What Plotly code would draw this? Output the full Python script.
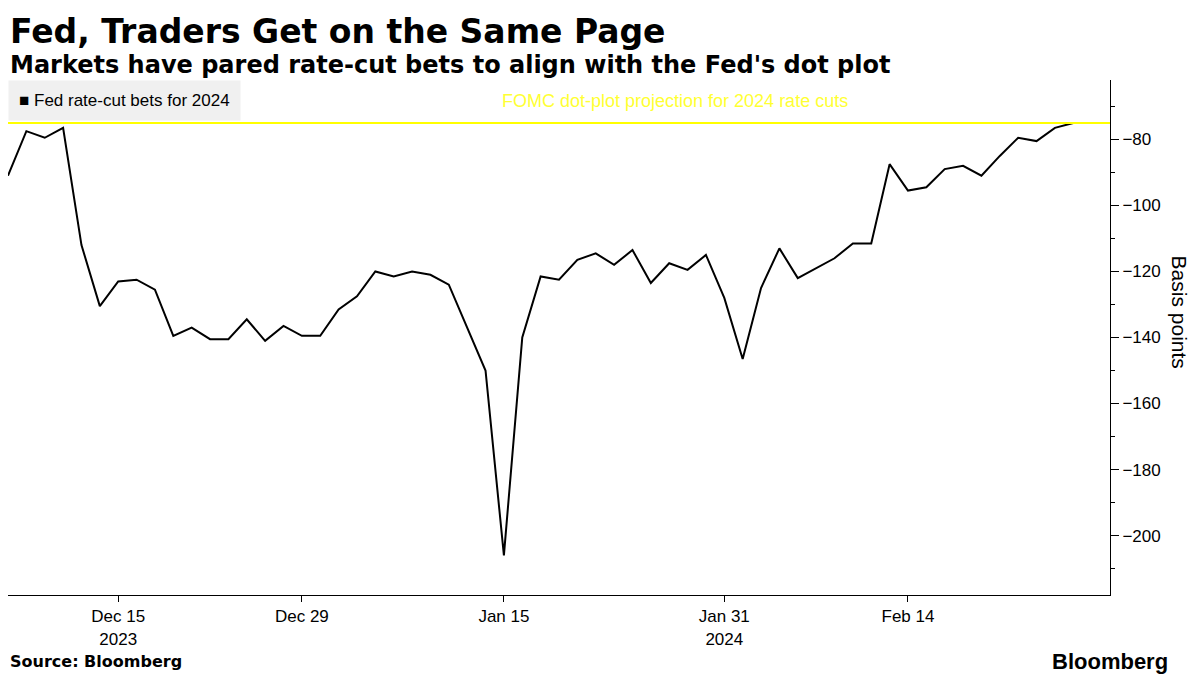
import plotly.graph_objects as go
import pandas as pd

dates = ["2023-12-07","2023-12-08","2023-12-11","2023-12-12","2023-12-13","2023-12-14","2023-12-15",
"2023-12-18","2023-12-19","2023-12-20","2023-12-21","2023-12-22","2023-12-25","2023-12-26","2023-12-27",
"2023-12-28","2023-12-29","2024-01-01","2024-01-02","2024-01-03","2024-01-04","2024-01-05","2024-01-08",
"2024-01-09","2024-01-10","2024-01-11","2024-01-12","2024-01-15","2024-01-16","2024-01-17","2024-01-18",
"2024-01-19","2024-01-22","2024-01-23","2024-01-24","2024-01-25","2024-01-26","2024-01-29","2024-01-30",
"2024-01-31","2024-02-01","2024-02-02","2024-02-05","2024-02-06","2024-02-07","2024-02-08","2024-02-09",
"2024-02-12","2024-02-13","2024-02-14","2024-02-15","2024-02-16","2024-02-19","2024-02-20","2024-02-21",
"2024-02-22","2024-02-23","2024-02-26","2024-02-27"]
bets = [-91,-77.5,-79.5,-76.5,-112,-130.5,-123,-122.5,-125.5,-139.5,-137,-140.5,-140.5,-134.5,-141,
-136.5,-139.5,-139.5,-131.5,-127.5,-120,-121.5,-120,-121,-124,-137,-150,-206,-140,-121.5,-122.5,
-116.5,-114.5,-118,-113.5,-123.5,-117.5,-119.5,-115,-128,-146.5,-125,-113,-122,-119,-116,-111.5,
-111.5,-87.5,-95.5,-94.5,-89,-88,-91,-85,-79.5,-80.5,-76.5,-75]
fomc = -75
tick_dates = ["2023-12-15","2023-12-29","2024-01-15","2024-01-31","2024-02-14"]
tick_text = ["Dec 15<br>2023","Dec 29","Jan 15","Jan 31<br>2024","Feb 14"]
y_ticks = [-80,-100,-120,-140,-160,-180,-200]

PH = 675 - 72 - 88
fig = go.Figure()
fig.add_trace(go.Scatter(x=pd.to_datetime(dates), y=bets, mode="lines",
                         line=dict(color="black", width=2), showlegend=False, cliponaxis=False))
fig.add_hline(y=fomc, line=dict(color="#ffff00", width=2))
font = "Liberation Sans"
fig.update_layout(
    width=1200, height=675, paper_bgcolor="white", plot_bgcolor="white",
    margin=dict(l=0, r=98, t=72, b=88, autoexpand=False),
    font=dict(family=font, size=17, color="black"),
    xaxis=dict(range=[pd.Timestamp("2023-12-07"), pd.Timestamp("2024-02-29")],
               rangebreaks=[dict(bounds=["sat","mon"])],
               tickvals=pd.to_datetime(tick_dates), ticktext=tick_text,
               ticks="outside", ticklen=6, tickcolor="black", showgrid=False,
               showline=True, linecolor="black", zeroline=False),
    yaxis=dict(side="right", range=[-218,-62], tickvals=y_ticks,
               ticks="outside", ticklen=8, tickcolor="black", showgrid=False,
               showline=True, linecolor="black", zeroline=False,
               minor=dict(dtick=10, ticks="outside", ticklen=4, tickcolor="black")),
)
fig.add_annotation(text="<b>Fed, Traders Get on the Same Page</b>", xref="paper", yref="paper",
                   x=0.0, y=1 + 70/PH, xanchor="left", yanchor="top", showarrow=False,
                   font=dict(family="DejaVu Sans", size=33))
fig.add_annotation(text="<b>Markets have pared rate-cut bets to align with the Fed's dot plot</b>",
                   xref="paper", yref="paper", x=0.0, y=1 + 31/PH, xanchor="left", yanchor="top",
                   showarrow=False, font=dict(family="DejaVu Sans", size=24))
fig.add_annotation(text="■ Fed rate-cut bets for 2024", xref="paper", yref="paper", x=0.0, y=1.0,
                   xanchor="left", yanchor="top", showarrow=False, bgcolor="#f0f0f0",
                   borderpad=10, font=dict(size=17))
fig.add_annotation(text="FOMC dot-plot projection for 2024 rate cuts", xref="paper", y=fomc,
                   x=0.605, yanchor="bottom", yshift=10, showarrow=False,
                   font=dict(size=18, color="#ffff33"))
fig.add_annotation(text="Basis points", xref="paper", yref="paper", x=1.075, y=0.55,
                   textangle=90, showarrow=False, font=dict(size=21))
fig.add_annotation(text="<b>Source: Bloomberg</b>", xref="paper", yref="paper", x=0.0, y=-66/PH,
                   xanchor="left", yanchor="middle", showarrow=False,
                   font=dict(family="DejaVu Sans", size=16))
fig.add_annotation(text="<b>Bloomberg</b>", xref="paper", yref="paper", x=1.0, xshift=60, y=-66/PH,
                   xanchor="right", yanchor="middle", showarrow=False, font=dict(size=22))
fig.write_html("out.html")
